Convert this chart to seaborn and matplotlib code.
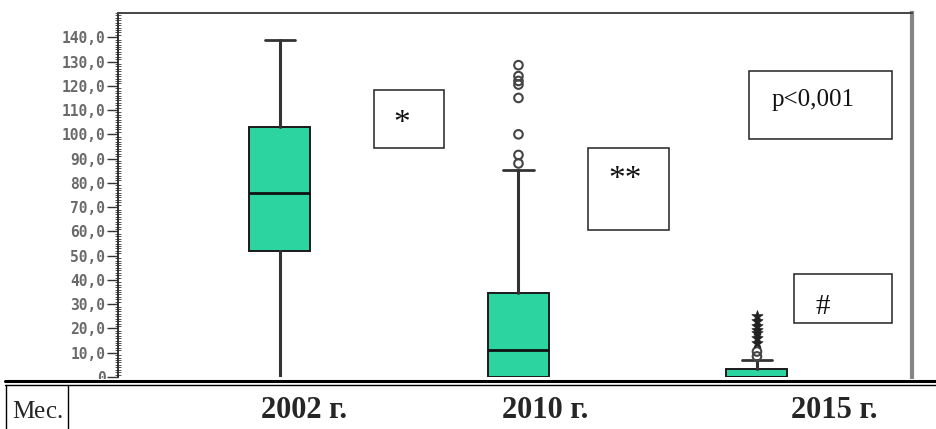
import matplotlib
matplotlib.use("Agg")
import matplotlib.pyplot as plt
import pandas as pd
import seaborn as sns
from matplotlib.patches import Rectangle
from matplotlib.lines import Line2D
from matplotlib.ticker import MultipleLocator, FixedLocator, FixedFormatter

# ---- data: monthly values per year (box summaries and outlying points) ----
years = ["2002 г.", "2010 г.", "2015 г."]
q1 = [52.0, 0.0, 0.0]
median = [76.0, 11.0, 0.0]
q3 = [103.0, 34.5, 3.4]
whisker_low = [0.0, 0.0, 0.0]
whisker_high = [139.0, 85.5, 7.0]
outliers_2010 = [88.0, 91.5, 100.0, 115.0, 120.5, 122.0, 124.0, 128.5]
outliers_2015 = [8.5, 10.5]
extremes_2015 = [14.0, 16.0, 18.0, 19.5, 21.0, 23.0, 25.0]
y_ticks = [0, 10, 20, 30, 40, 50, 60, 70, 80, 90, 100, 110, 120, 130, 140]
y_tick_labels = ["0", "10,0", "20,0", "30,0", "40,0", "50,0", "60,0", "70,0",
                 "80,0", "90,0", "100,0", "110,0", "120,0", "130,0", "140,0"]
notes = ["*", "**", "p<0,001", "#"]
first_col = "Мес."

sns.set_style("white")
BOX_COLOR = "#2CD5A0"
W, H = 937, 429

fig = plt.figure(figsize=(W / 100, H / 100), dpi=100)
ax = fig.add_axes([118 / W, 1 - 377 / H, (912 - 118) / W, (377 - 13) / H])

positions = list(range(len(years)))
stats = pd.DataFrame({"label": years, "q1": q1, "med": median, "q3": q3,
                      "whislo": whisker_low, "whishi": whisker_high})
bxp_stats = [dict(label=r.label, q1=r.q1, med=r.med, q3=r.q3,
                  whislo=r.whislo, whishi=r.whishi, fliers=[])
             for r in stats.itertuples()]
parts = ax.bxp(bxp_stats, positions=positions, widths=0.256, patch_artist=True,
               showfliers=False,
               boxprops=dict(facecolor=BOX_COLOR, edgecolor="#1a1a1a", linewidth=1.4),
               medianprops=dict(color="#111111", linewidth=2.0),
               whiskerprops=dict(color="#333333", linewidth=2.2),
               capprops=dict(color="#333333", linewidth=2.0))
# the lower caps sit on the baseline and are hidden there
for cap in parts["caps"][0::2]:
    cap.set_visible(False)

# outlying points drawn with seaborn
circ = pd.DataFrame({"x": [1] * len(outliers_2010) + [2] * len(outliers_2015),
                     "y": outliers_2010 + outliers_2015})
sns.scatterplot(data=circ, x="x", y="y", ax=ax, marker="o", s=38,
                facecolor="none", edgecolor="#444444", linewidth=1.5,
                legend=False, zorder=4)
ext = pd.DataFrame({"x": [2] * len(extremes_2015), "y": extremes_2015})
sns.scatterplot(data=ext, x="x", y="y", ax=ax, marker="*", s=70,
                color="#222222", edgecolor="#222222", linewidth=0.6,
                legend=False, zorder=4)

ax.set_xlim(-0.679, 2.650)
ax.set_ylim(0, 150)
ax.set_xticks([])
ax.set_xlabel("")
ax.set_ylabel("")
ax.yaxis.set_major_locator(FixedLocator(y_ticks))
ax.yaxis.set_major_formatter(FixedFormatter(y_tick_labels))
ax.yaxis.set_minor_locator(MultipleLocator(1))
ax.tick_params(axis="y", which="major", left=True, direction="out", length=8,
               width=1.0, color="#333333", labelsize=10.5, labelcolor="#6a6a6a",
               pad=1)
ax.tick_params(axis="y", which="minor", left=True, direction="inout", length=5,
               width=0.7, color="#555555")
for lab in ax.get_yticklabels():
    lab.set_fontfamily("DejaVu Sans Mono")
    lab.set_fontweight("bold")

for side, (col, lw) in {"left": ("#222222", 1.3), "top": ("#444444", 1.4),
                        "right": ("#858585", 3.0)}.items():
    ax.spines[side].set_color(col)
    ax.spines[side].set_linewidth(lw)
ax.spines["bottom"].set_visible(False)

# annotation boxes
serif = "Liberation Serif"
box_px = [(374, 90, 444, 148), (588, 148, 669, 230),
          (749, 71, 892, 139), (794, 274, 892, 323)]
text_px = [(402, 132), (625, 188), (813, 106), (823, 314)]
note_sizes = [24, 24, 18, 21]
for (x0, y0, x1, y1), (tx, ty), note, fs in zip(box_px, text_px, notes, note_sizes):
    fig.add_artist(Rectangle((x0 / W, 1 - y1 / H), (x1 - x0) / W, (y1 - y0) / H,
                             transform=fig.transFigure, facecolor="white",
                             edgecolor="#222222", linewidth=1.1, zorder=5))
    fig.text(tx / W, 1 - ty / H, note, ha="center", va="baseline",
             fontsize=fs, family=serif, color="#111111", zorder=6)

# table row with the years
fig.add_artist(Rectangle((0, 0), 1, 1 - 379 / H, transform=fig.transFigure,
                         facecolor="white", edgecolor="none", zorder=5))
fig.add_artist(Line2D([5 / W, 1], [1 - 381 / H] * 2, transform=fig.transFigure,
                      color="black", linewidth=2.2, zorder=6))
fig.add_artist(Line2D([5 / W, 1], [1 - 384.5 / H] * 2, transform=fig.transFigure,
                      color="black", linewidth=1.0, zorder=6))
for xv in (6, 68):
    fig.add_artist(Line2D([xv / W] * 2, [0, 1 - 384.5 / H], transform=fig.transFigure,
                          color="black", linewidth=1.0, zorder=6))
fig.text(38 / W, 1 - 418 / H, first_col, ha="center", va="baseline",
         fontsize=18, family=serif, zorder=7)
for xc, yr in zip([304, 545, 834], years):
    fig.text(xc / W, 1 - 418 / H, yr, ha="center", va="baseline",
             fontsize=22, family=serif, fontweight="bold", zorder=7)

fig.savefig("out.png", dpi=100)
